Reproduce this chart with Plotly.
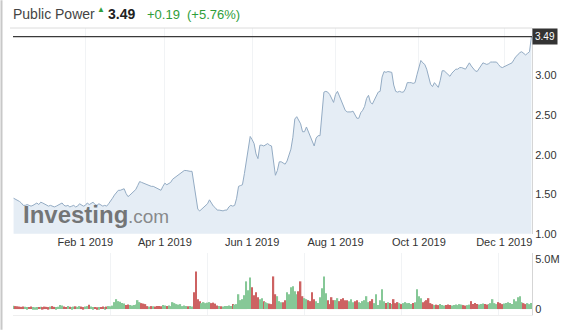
import plotly.graph_objects as go
import pandas as pd
import numpy as np

# ---------------- data ----------------
stock_name = "Public Power"
last_text = "3.49"
change_text = "+0.19"
change_pct_text = "(+5.76%)"
start_date = "2018-12-12"

price = [
    1.45, 1.44, 1.43, 1.41, 1.39, 1.36, 1.36, 1.37, 1.36, 1.35,
    1.36, 1.38, 1.39, 1.37, 1.40, 1.39, 1.38, 1.36, 1.35, 1.36,
    1.35, 1.34, 1.35, 1.36, 1.38, 1.39, 1.36, 1.35, 1.36, 1.34,
    1.35, 1.36, 1.34, 1.35, 1.38, 1.36, 1.35, 1.36, 1.39, 1.37,
    1.39, 1.40, 1.37, 1.36, 1.38, 1.36, 1.35, 1.36, 1.35, 1.38,
    1.41, 1.45, 1.49, 1.52, 1.55, 1.55, 1.56, 1.57, 1.51, 1.47,
    1.49, 1.51, 1.54, 1.56, 1.61, 1.66, 1.65, 1.64, 1.62, 1.61,
    1.61, 1.60, 1.60, 1.59, 1.57, 1.56, 1.55, 1.60, 1.64, 1.62,
    1.64, 1.65, 1.69, 1.71, 1.72, 1.74, 1.76, 1.79, 1.80, 1.80,
    1.79, 1.79, 1.79, 1.64, 1.45, 1.31, 1.29, 1.31, 1.33, 1.35,
    1.38, 1.43, 1.39, 1.35, 1.33, 1.30, 1.30, 1.29, 1.29, 1.30,
    1.30, 1.34, 1.36, 1.35, 1.36, 1.45, 1.60, 1.61, 1.62, 1.76,
    1.93, 2.06, 2.23, 2.19, 2.14, 2.01, 1.95, 2.12, 2.12, 2.11,
    2.12, 2.14, 2.12, 2.11, 1.92, 1.74, 1.80, 1.91, 1.91, 1.89,
    1.88, 1.92, 1.99, 2.07, 2.22, 2.45, 2.48, 2.44, 2.39, 2.29,
    2.29, 2.35, 2.29, 2.24, 2.17, 2.11, 2.21, 2.24, 2.24, 2.58,
    2.79, 2.80, 2.79, 2.76, 2.70, 2.66, 2.76, 2.80, 2.74, 2.68,
    2.61, 2.56, 2.54, 2.54, 2.54, 2.55, 2.51, 2.46, 2.46, 2.53,
    2.56, 2.61, 2.71, 2.75, 2.66, 2.64, 2.69, 2.75, 2.79, 2.80,
    2.98, 3.05, 3.04, 3.05, 3.04, 3.04, 2.88, 2.80, 2.79, 2.80,
    2.79, 2.79, 2.83, 2.91, 2.91, 2.91, 2.90, 2.91, 3.01, 3.11,
    3.19, 3.16, 3.14, 3.08, 2.99, 2.89, 2.86, 2.91, 2.88, 2.85,
    2.94, 3.06, 3.06, 3.04, 3.01, 2.99, 3.03, 3.05, 3.08, 3.08,
    3.10, 3.10, 3.09, 3.08, 3.12, 3.16, 3.12, 3.09, 3.06, 3.05,
    3.09, 3.12, 3.16, 3.15, 3.14, 3.15, 3.17, 3.17, 3.17, 3.17,
    3.14, 3.11, 3.10, 3.11, 3.12, 3.14, 3.14, 3.16, 3.20, 3.24,
    3.26, 3.29, 3.30, 3.28, 3.26, 3.28, 3.30, 3.49,
]

volume_m = [
    0.33, 0.30, 0.28, 0.25, 0.22, 0.26, 0.24, 0.20, 0.22, 0.25,
    0.20, 0.18, 0.20, 0.22, 0.24, 0.20, 0.25, 0.22, 0.20, 0.25,
    0.30, 0.22, 0.20, 0.24, 0.40, 0.35, 0.25, 0.22, 0.30, 0.24,
    0.20, 0.25, 0.28, 0.22, 0.30, 0.25, 0.20, 0.26, 0.30, 0.43,
    0.25, 0.20, 0.22, 0.18, 0.20, 0.22, 0.25, 0.20, 0.25, 0.30,
    0.28, 0.35, 0.70, 1.00, 0.80, 0.75, 0.60, 0.55, 0.40, 0.45,
    0.40, 0.35, 0.40, 0.45, 0.90, 0.70, 0.60, 0.55, 0.50, 0.30,
    0.25, 0.30, 0.28, 0.25, 0.30, 0.32, 0.28, 0.40, 0.35, 0.30,
    0.35, 0.30, 0.70, 0.60, 0.50, 0.45, 0.50, 0.30, 0.35, 0.30,
    0.28, 0.30, 0.25, 1.70, 3.80, 1.00, 0.80, 0.60, 0.70, 0.60,
    0.65, 0.70, 0.60, 0.65, 0.55, 0.35, 0.30, 0.28, 0.25, 0.30,
    0.30, 0.35, 0.30, 0.50, 0.45, 0.50, 1.50, 0.90, 1.00, 1.40,
    2.80, 1.90, 3.20, 2.20, 1.40, 1.70, 1.20, 1.00, 1.10, 0.80,
    0.70, 0.60, 0.55, 0.50, 3.30, 1.50, 1.30, 0.80, 0.70, 0.70,
    0.90, 1.70, 1.50, 2.20, 2.30, 1.80, 1.50, 1.80, 2.80, 1.30,
    1.10, 1.00, 0.90, 0.80, 1.70, 1.00, 0.80, 0.60, 1.20, 2.10,
    3.30, 1.60, 0.90, 0.50, 1.20, 0.90, 0.90, 1.10, 0.80, 1.00,
    1.10, 0.90, 0.90, 0.80, 1.00, 0.70, 0.80, 0.90, 0.70, 0.60,
    0.80, 0.90, 1.30, 0.70, 0.80, 1.00, 0.60, 1.50, 0.40, 0.90,
    2.00, 0.80, 0.60, 0.70, 0.60, 0.50, 1.00, 0.60, 0.70, 0.60,
    0.50, 0.60, 0.70, 0.60, 0.60, 0.50, 0.60, 0.70, 2.00, 1.30,
    1.10, 0.70, 0.80, 0.90, 1.10, 0.60, 0.50, 0.40, 0.45, 0.40,
    0.50, 0.40, 0.35, 0.40, 0.45, 0.40, 0.35, 0.40, 0.45, 0.40,
    0.50, 0.45, 0.40, 0.35, 0.40, 0.45, 0.80, 0.50, 0.60, 0.50,
    0.45, 0.50, 0.55, 0.50, 0.45, 0.50, 0.60, 1.00, 0.60, 0.50,
    0.70, 0.60, 0.50, 0.55, 0.60, 0.70, 0.60, 0.50, 1.00, 0.80,
    1.20, 1.30, 0.70, 0.60, 0.50, 0.60, 0.50, 0.60,
]

tick_dates = ["2019-02-01", "2019-04-01", "2019-06-01",
              "2019-08-01", "2019-10-01", "2019-12-01"]
tick_labels = ["Feb 1 2019", "Apr 1 2019", "Jun 1 2019",
               "Aug 1 2019", "Oct 1 2019", "Dec 1 2019"]
price_ticks = [1.0, 1.5, 2.0, 2.5, 3.0]
price_tick_labels = ["1.00", "1.50", "2.00", "2.50", "3.00"]
vol_ticks = [0, 5.0]
vol_tick_labels = ["0", "5.0M"]

# ---------------- build ----------------
n = min(len(price), len(volume_m))
price = price[:n]
volume_m = volume_m[:n]
dates = pd.bdate_range(start=start_date, periods=n)
idx = np.arange(n)
tick_pos = [int(np.searchsorted(dates.values, np.datetime64(d))) for d in tick_dates]

GREEN = "#86c897"
RED = "#cd6262"
bar_colors = [GREEN] + [GREEN if price[i] >= price[i - 1] else RED for i in range(1, n)]

FONT = "Arial, 'Liberation Sans', sans-serif"

W, H = 572, 333
ML, MR, MT, MB = 13, 40, 28, 15
PW = W - ML - MR
PH = H - MT - MB


def px_x(px):
    return (px - ML) / PW


def px_y(py):
    return (H - MB - py) / PH


fig = go.Figure()

fig.add_trace(go.Scatter(
    x=idx, y=price, mode="lines",
    line=dict(color="#93abc3", width=1),
    fill="tozeroy", fillcolor="#e5edf5",
    xaxis="x", yaxis="y", hoverinfo="skip", showlegend=False,
))

fig.add_trace(go.Bar(
    x=idx, y=volume_m, marker=dict(color=bar_colors, line=dict(width=0)),
    xaxis="x2", yaxis="y2", hoverinfo="skip", showlegend=False,
))

price_bottom = px_y(236)
vol_top = px_y(255)

fig.update_layout(
    width=W, height=H,
    margin=dict(l=ML, r=MR, t=MT, b=MB),
    paper_bgcolor="white", plot_bgcolor="white",
    font=dict(family=FONT, size=11, color="#333"),
    bargap=0.25,
    xaxis=dict(
        domain=[0, 1], anchor="y", range=[-0.3, n - 0.7],
        tickvals=tick_pos, ticktext=tick_labels, ticks="",
        showgrid=True, gridcolor="#f1f3f5", gridwidth=1,
        zeroline=False, showline=False,
        tickfont=dict(size=11, color="#333", family=FONT),
    ),
    yaxis=dict(
        domain=[price_bottom, 1], anchor="x", side="right",
        range=[1.0, 3.6], tickvals=price_ticks, ticktext=price_tick_labels,
        ticks="", showgrid=False, zeroline=False,
        showline=True, linecolor="#d5d5d5", linewidth=1,
        tickfont=dict(size=11, color="#333", family=FONT),
    ),
    xaxis2=dict(
        domain=[0, 1], anchor="y2", matches="x", showticklabels=False,
        ticks="", showgrid=True, gridcolor="#f1f3f5", zeroline=False,
        showline=True, linecolor="#eeeeee",
    ),
    yaxis2=dict(
        domain=[0, vol_top], anchor="x2", side="right",
        range=[-0.6, 5.7], tickvals=vol_ticks, ticktext=vol_tick_labels,
        ticks="", showgrid=False, zeroline=False,
        showline=True, linecolor="#d5d5d5", linewidth=1,
        tickfont=dict(size=11, color="#333", family=FONT),
    ),
)

last_price = price[-1]

shapes = [
    # top border of chart
    dict(type="line", xref="paper", yref="paper", x0=px_x(10), x1=1.0,
         y0=1.0, y1=1.0, line=dict(color="#dcdcdc", width=1)),
    # last price line
    dict(type="line", xref="paper", yref="y", x0=0, x1=1.0,
         y0=last_price, y1=last_price, line=dict(color="#3a3a3a", width=1.2)),
    # left page border
    dict(type="line", xref="paper", yref="paper", x0=px_x(1.5), x1=px_x(1.5),
         y0=px_y(H), y1=px_y(0), line=dict(color="#c8c8c8", width=2)),
]
fig.update_layout(shapes=shapes)

GREEN_TXT = "#2f9e3a"
ann = [
    dict(text=stock_name, xref="paper", yref="paper", x=px_x(11), y=px_y(14),
         xanchor="left", yanchor="middle", showarrow=False,
         font=dict(size=14, color="#444", family=FONT)),
    dict(text="▲", xref="paper", yref="paper", x=px_x(95), y=px_y(9),
         xanchor="left", yanchor="middle", showarrow=False,
         font=dict(size=8, color=GREEN_TXT, family=FONT)),
    dict(text="<b>" + last_text + "</b>", xref="paper", yref="paper", x=px_x(106), y=px_y(14),
         xanchor="left", yanchor="middle", showarrow=False,
         font=dict(size=14, color="#222", family=FONT)),
    dict(text=change_text, xref="paper", yref="paper", x=px_x(145), y=px_y(14),
         xanchor="left", yanchor="middle", showarrow=False,
         font=dict(size=13, color=GREEN_TXT, family=FONT)),
    dict(text=change_pct_text, xref="paper", yref="paper", x=px_x(185), y=px_y(14),
         xanchor="left", yanchor="middle", showarrow=False,
         font=dict(size=13, color=GREEN_TXT, family=FONT)),
    # last price label box
    dict(text=last_text, xref="paper", yref="y", x=1.0, y=last_price,
         xanchor="left", yanchor="middle", showarrow=False,
         bgcolor="#333333", borderpad=2,
         font=dict(size=10, color="white", family=FONT)),
    # watermark
    dict(text="<b>Investing</b>", xref="paper", yref="paper", x=px_x(21), y=px_y(216),
         xanchor="left", yanchor="middle", showarrow=False,
         font=dict(size=24, color="rgba(95,95,95,0.85)", family=FONT)),
    dict(text=".com", xref="paper", yref="paper", x=px_x(126), y=px_y(218),
         xanchor="left", yanchor="middle", showarrow=False,
         font=dict(size=19, color="rgba(110,110,110,0.8)", family=FONT)),
]
fig.update_layout(annotations=ann)

fig.write_html("out.html")
